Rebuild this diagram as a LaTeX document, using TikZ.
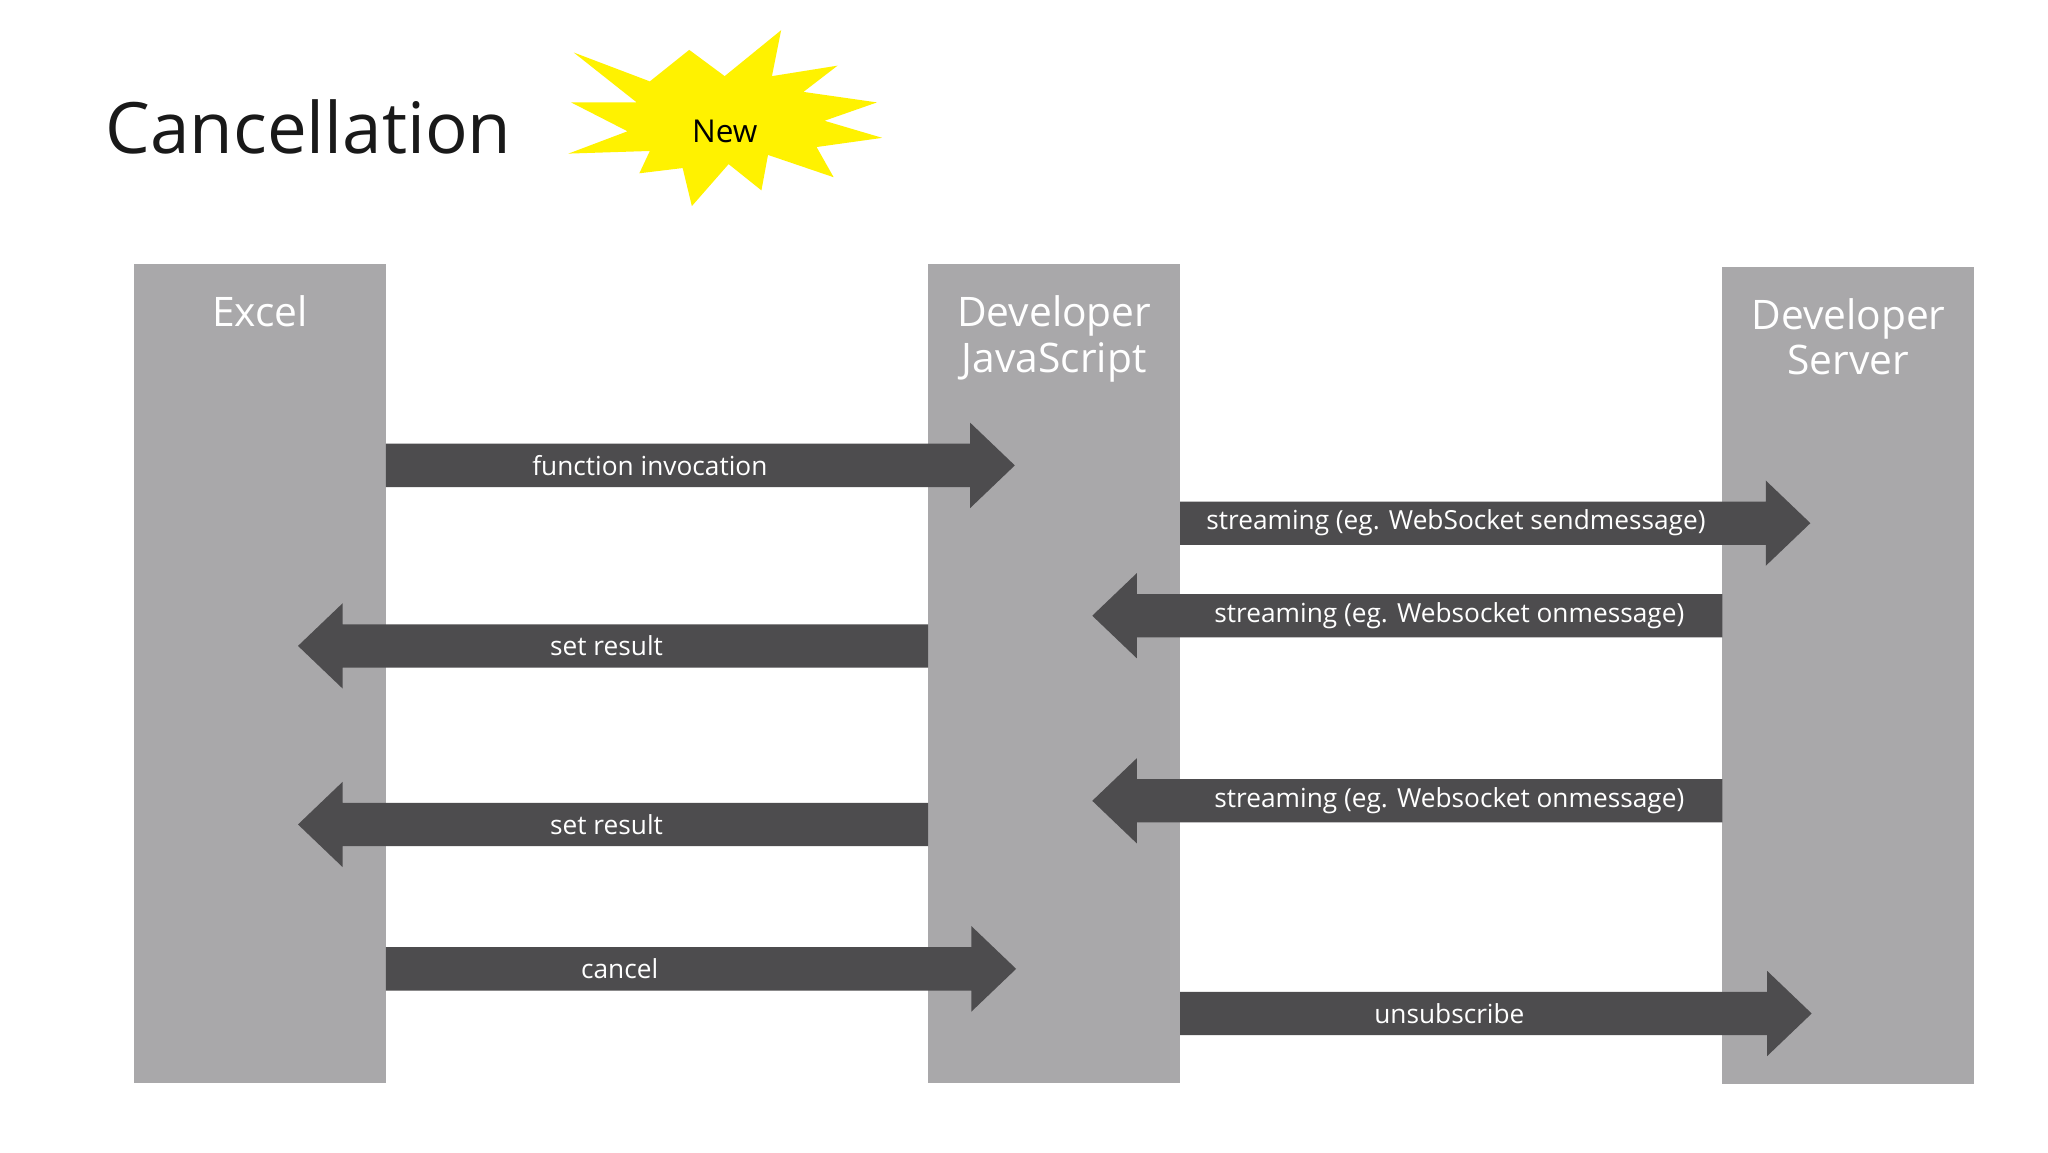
\documentclass[tikz,border=0pt]{standalone}
\usepackage{fontspec}
\setmainfont{Open Sans}
\begin{document}
\begin{tikzpicture}[x=0.5pt,y=-0.5pt,
  col/.style={fill=colgray,draw=none},
  hdr/.style={text=white,font=\fontsize{15.5}{17.5}\selectfont,align=center},
  lbl/.style={text=white,font=\fontsize{10}{12}\selectfont}]
\definecolor{colgray}{HTML}{A9A8AA}
\definecolor{arrgray}{HTML}{4D4C4E}
\useasboundingbox (0,0) rectangle (1560,878);
\fill[white] (0,0) rectangle (1560,878);
\newcommand\myRarrow[4]{% tail x, head start, tip, y
  \fill[arrgray] (#1,#4-16.5) -- (#2,#4-16.5) -- (#2,#4-32.5) -- (#3,#4) -- (#2,#4+32.5) -- (#2,#4+16.5) -- (#1,#4+16.5) -- cycle;}
\node[font=\fontsize{27}{30}\selectfont,text=black!90] (title) at (235,97) {Cancellation};
\fill[yellow] (437,40) -- (495,62) -- (525,38) -- (552,58) -- (595,23) -- (588,58) -- (638,50) -- (612,70) -- (668,78) -- (628,92) -- (672,105) -- (622,112) -- (635,135) -- (585,118) -- (580,145) -- (555,125) -- (527,157) -- (520,128) -- (487,132) -- (495,115) -- (433,117) -- (478,100) -- (435,78) -- (485,78) -- cycle;
\node[font=\fontsize{12}{14}\selectfont] (new) at (552,100) {New};
\fill[col] (102,201) rectangle (294,825);
\fill[col] (707,201) rectangle (899,825);
\fill[col] (1312,203) rectangle (1504,826);
\node[hdr,anchor=north] (excel) at (198,218) {Excel};
\node[hdr,anchor=north] (djs) at (803,218) {Developer\\JavaScript};
\node[hdr,anchor=north] (dsrv) at (1408,220) {Developer\\Server};
\myRarrow{294}{739}{773}{354.5}
\node[lbl] (a1) at (495,354.5) {function invocation};
\myRarrow{899}{1345}{1379}{398.5}
\node[lbl] (a2) at (1109,398.5) {streaming (eg. WebSocket sendmessage)};
\myRarrow{1312}{866}{832}{469}
\node[lbl] (a3) at (1104,469) {streaming (eg. Websocket onmessage)};
\myRarrow{707}{261}{227}{492}
\node[lbl] (a4) at (462,492) {set result};
\myRarrow{1312}{866}{832}{610}
\node[lbl] (a5) at (1104,610) {streaming (eg. Websocket onmessage)};
\myRarrow{707}{261}{227}{628}
\node[lbl] (a6) at (462,628) {set result};
\myRarrow{294}{740}{774}{738}
\node[lbl] (a7) at (472,738) {cancel};
\myRarrow{899}{1346}{1380}{772}
\node[lbl] (a8) at (1104,772) {unsubscribe};
\end{tikzpicture}
\end{document}
